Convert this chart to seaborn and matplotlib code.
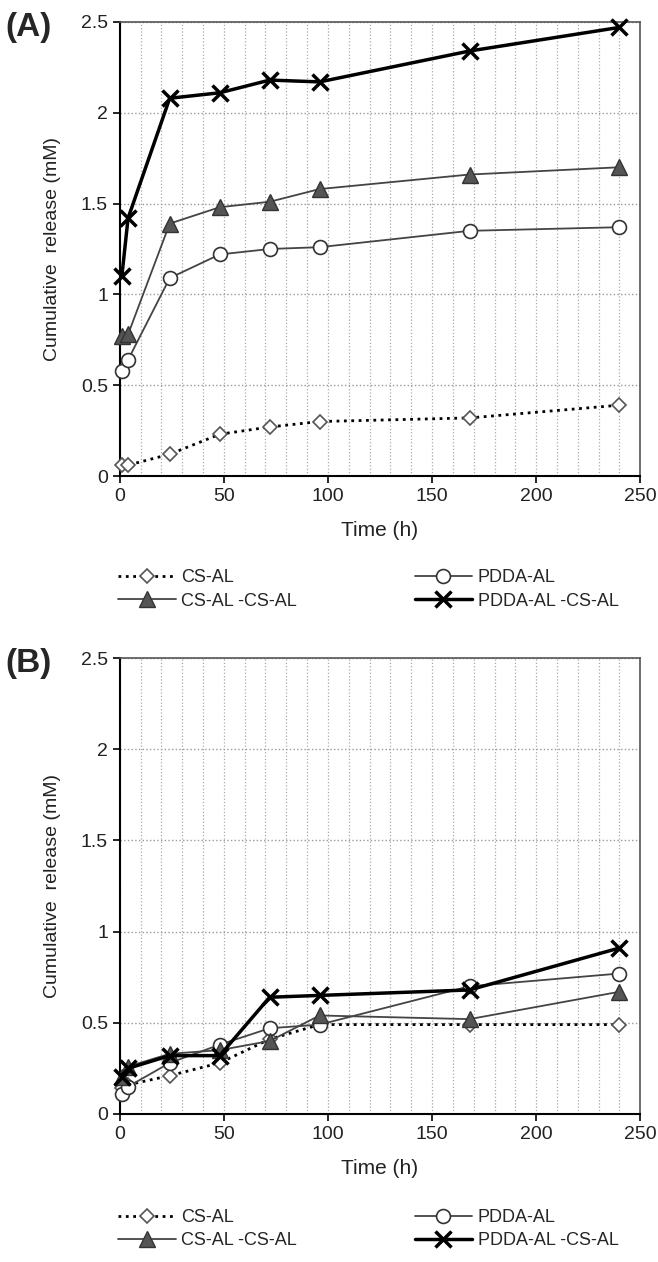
import numpy as np
import pandas as pd
import matplotlib
matplotlib.use("Agg")
import matplotlib.pyplot as plt
import seaborn as sns

# ------------ data ----------------------------------
time_h = [1, 4, 24, 48, 72, 96, 168, 240]
series_names = ["CS-AL", "PDDA-AL", "CS-AL -CS-AL", "PDDA-AL -CS-AL"]

# panel A
a_cs = [0.06, 0.06, 0.12, 0.23, 0.27, 0.30, 0.32, 0.39]
a_pdda = [0.58, 0.64, 1.09, 1.22, 1.25, 1.26, 1.35, 1.37]
a_cs_cs = [0.77, 0.78, 1.39, 1.48, 1.51, 1.58, 1.66, 1.70]
a_pdda_cs = [1.10, 1.42, 2.08, 2.11, 2.18, 2.17, 2.34, 2.47]

# panel B
b_cs = [0.14, 0.16, 0.21, 0.28, 0.41, 0.49, 0.49, 0.49]
b_pdda = [0.11, 0.15, 0.28, 0.38, 0.47, 0.49, 0.70, 0.77]
b_cs_cs = [0.20, 0.26, 0.33, 0.35, 0.40, 0.54, 0.52, 0.67]
b_pdda_cs = [0.20, 0.25, 0.32, 0.32, 0.64, 0.65, 0.68, 0.91]

panels = {
    "(A)": [a_cs, a_pdda, a_cs_cs, a_pdda_cs],
    "(B)": [b_cs, b_pdda, b_cs_cs, b_pdda_cs],
}

styles = {
    "CS-AL": dict(color="black", linestyle=":", linewidth=2.0, marker="D",
                  markersize=7.5, markerfacecolor="white", markeredgecolor="#555555",
                  markeredgewidth=1.2),
    "PDDA-AL": dict(color="#444444", linestyle="-", linewidth=1.3, marker="o",
                    markersize=10, markerfacecolor="white", markeredgecolor="#333333",
                    markeredgewidth=1.2),
    "CS-AL -CS-AL": dict(color="#444444", linestyle="-", linewidth=1.3, marker="^",
                         markersize=11, markerfacecolor="#555555", markeredgecolor="#333333",
                         markeredgewidth=1.0),
    "PDDA-AL -CS-AL": dict(color="black", linestyle="-", linewidth=2.5, marker="x",
                           markersize=11, markeredgecolor="black", markeredgewidth=2.5),
}

sns.set_style("white")
plt.rcParams["font.family"] = ["Liberation Sans", "DejaVu Sans"]

fig = plt.figure(figsize=(6.58, 12.62), dpi=100)
axes_pos = {"(A)": [0.182, 0.6228, 0.791, 0.3598],
            "(B)": [0.182, 0.1173, 0.791, 0.3613]}
legend_y = {"(A)": 0.533, "(B)": 0.026}

for tag, values in panels.items():
    ax = fig.add_axes(axes_pos[tag])
    df = pd.DataFrame({"Time": time_h * 4,
                       "Release": sum(values, []),
                       "Series": np.repeat(series_names, len(time_h))})
    for name in series_names:
        sub = df[df["Series"] == name]
        sns.lineplot(data=sub, x="Time", y="Release", ax=ax, label=name,
                     clip_on=False, zorder=3, **styles[name])

    ax.set_xlim(0, 250)
    ax.set_ylim(0, 2.5)
    ax.set_xticks(np.arange(0, 251, 50))
    ax.set_xticks(np.arange(0, 251, 10), minor=True)
    ax.set_yticks(np.arange(0, 2.51, 0.5))
    ax.set_yticklabels(["0", "0.5", "1", "1.5", "2", "2.5"])
    ax.grid(True, which="major", axis="y", color="#999999", linestyle=":", linewidth=1.0)
    ax.grid(True, which="minor", axis="x", color="#aaaaaa", linestyle=":", linewidth=0.9)
    ax.grid(True, which="major", axis="x", color="#aaaaaa", linestyle=":", linewidth=0.9)
    ax.tick_params(axis="both", which="major", labelsize=14, direction="out",
                   length=5, width=1.2, color="black", left=True, bottom=True,
                   labelcolor="#222222")
    ax.tick_params(axis="x", which="minor", length=0)
    for side in ["left", "bottom"]:
        ax.spines[side].set_color("black")
        ax.spines[side].set_linewidth(1.5)
    for side in ["top", "right"]:
        ax.spines[side].set_color("#555555")
        ax.spines[side].set_linewidth(1.2)

    ax.set_xlabel("Time (h)", fontsize=15, labelpad=12, color="#222222")
    ax.set_ylabel("Cumulative  release (mM)", fontsize=14, labelpad=14, color="#222222")

    fig.text(0.008, axes_pos[tag][1] + axes_pos[tag][3] - 0.004, tag,
             fontsize=24, fontweight="bold", va="center", ha="left")

    h, l = ax.get_legend_handles_labels()
    ax.legend_.remove()
    order = [0, 2, 1, 3]
    fig.legend([h[i] for i in order], [l[i] for i in order], ncol=2,
               loc="center", bbox_to_anchor=(0.56, legend_y[tag]),
               frameon=False, fontsize=13, handlelength=3.2,
               columnspacing=6.5, handletextpad=0.3, labelspacing=0.35)

fig.savefig("out.png", dpi=100)
